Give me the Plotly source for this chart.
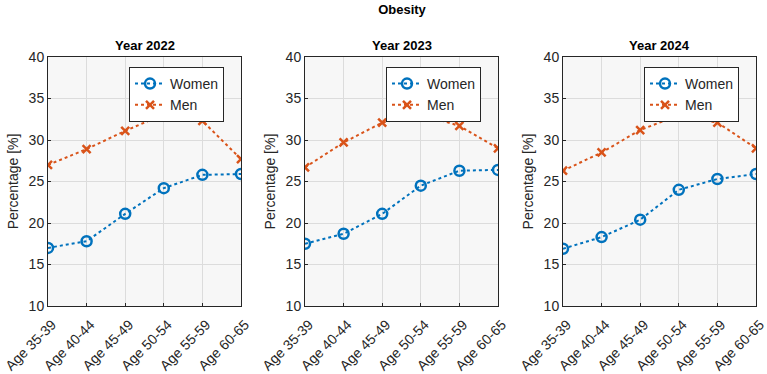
import plotly.graph_objects as go

categories = ["Age 35-39", "Age 40-44", "Age 45-49", "Age 50-54", "Age 55-59", "Age 60-65"]
years = ["2022", "2023", "2024"]
women_2022 = [17.0, 17.8, 21.1, 24.2, 25.8, 25.9]
men_2022 = [27.0, 28.9, 31.1, 33.1, 32.3, 27.7]
women_2023 = [17.5, 18.7, 21.1, 24.5, 26.3, 26.4]
men_2023 = [26.7, 29.7, 32.1, 33.1, 31.7, 29.0]
women_2024 = [16.9, 18.3, 20.4, 24.0, 25.3, 25.9]
men_2024 = [26.3, 28.5, 31.2, 33.0, 32.1, 29.0]
women = [women_2022, women_2023, women_2024]
men = [men_2022, men_2023, men_2024]

W, H = 767, 374
ML, MR, MT, MB = 48, 11, 57, 68
PW = W - ML - MR
PH = H - MT - MB
panels_px = [(48, 241), (305, 498), (563, 756)]
legend_left_px = [129, 386, 644]

BLUE = "#0072BD"
ORANGE = "#D95319"
FONT = "Liberation Sans, Arial, sans-serif"
TXT = "#262626"

fig = go.Figure()
layout = dict()
for i in range(3):
    ax = "" if i == 0 else str(i + 1)
    leg = "legend" if i == 0 else f"legend{i+1}"
    fig.add_trace(go.Scatter(
        x=list(range(len(categories))), y=women[i], name="Women",
        mode="lines+markers", xaxis="x" + ax, yaxis="y" + ax, legend=leg,
        line=dict(color=BLUE, width=2, dash="dot"),
        marker=dict(symbol="circle-open", size=10, color=BLUE, line=dict(width=2.5, color=BLUE)),
    ))
    fig.add_trace(go.Scatter(
        x=list(range(len(categories))), y=men[i], name="Men",
        mode="lines+markers", xaxis="x" + ax, yaxis="y" + ax, legend=leg,
        line=dict(color=ORANGE, width=2, dash="dot"),
        marker=dict(symbol="x-thin", size=8, color=ORANGE, line=dict(width=2.5, color=ORANGE)),
    ))
    x0, x1 = panels_px[i]
    layout["xaxis" + ax] = dict(
        domain=[(x0 - ML) / PW, (x1 - ML) / PW], anchor="y" + ax,
        range=[0, len(categories) - 1], tickmode="array",
        tickvals=list(range(len(categories))), ticktext=categories, tickangle=-45,
        showgrid=True, gridcolor="#dcdcdc", gridwidth=1, zeroline=False,
        showline=True, linecolor="#262626", linewidth=1, mirror=True,
        ticks="inside", ticklen=3, tickcolor="#262626",
        tickfont=dict(family=FONT, size=14, color=TXT), automargin=False,
        ticklabeloverflow="allow", ticklabelshift=4, ticklabelstandoff=4,
    )
    layout["yaxis" + ax] = dict(
        domain=[0, 1], anchor="x" + ax, range=[10, 40], dtick=5,
        showgrid=True, gridcolor="#dcdcdc", gridwidth=1, zeroline=False,
        showline=True, linecolor="#262626", linewidth=1, mirror=True,
        ticks="inside", ticklen=3, tickcolor="#262626",
        tickfont=dict(family=FONT, size=14, color=TXT), automargin=False,
        title=dict(text="Percentage [%]", font=dict(family=FONT, size=14, color=TXT), standoff=6),
    )
    layout[leg] = dict(
        x=(legend_left_px[i] - ML) / PW, y=1 - (67 - MT) / PH,
        xanchor="left", yanchor="top", bgcolor="white",
        bordercolor="#262626", borderwidth=1,
        font=dict(family=FONT, size=14, color=TXT),
        tracegroupgap=0, itemwidth=30,
    )
    fig.add_annotation(
        text=f"<b>Year {years[i]}</b>", xref="paper", yref="paper",
        x=((x0 + x1) / 2 - ML) / PW, y=1 + (MT - 46) / PH, yanchor="middle", xanchor="center",
        showarrow=False, font=dict(family=FONT, size=13, color="black"),
    )

fig.update_layout(
    **layout,
    width=W, height=H, margin=dict(l=ML, r=MR, t=MT, b=MB, autoexpand=False),
    paper_bgcolor="white", plot_bgcolor="#f7f7f7",
    title=dict(text="<b>Obesity</b>", x=0.5, xref="paper", y=1 - 9 / H, yanchor="middle",
               font=dict(family=FONT, size=13, color="black")),
    showlegend=True,
)
fig.write_html("out.html")
